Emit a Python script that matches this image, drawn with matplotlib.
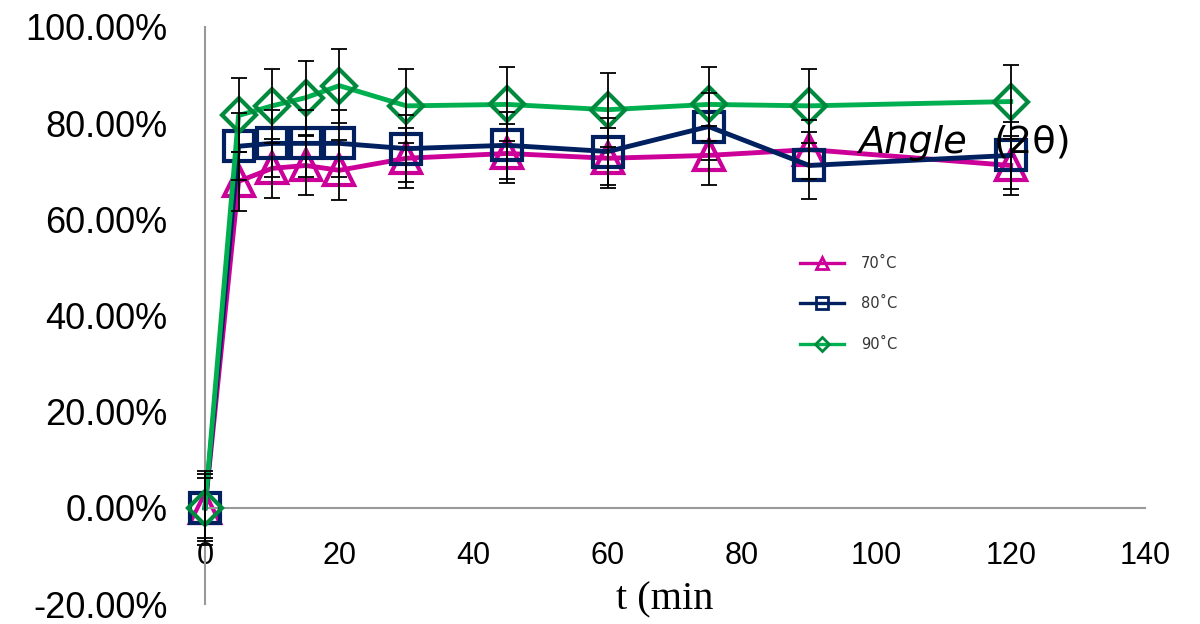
import matplotlib
matplotlib.use("Agg")
import matplotlib.pyplot as plt
from matplotlib.lines import Line2D
from matplotlib.ticker import FuncFormatter

# time points (min)
t = [0, 5, 10, 15, 20, 30, 45, 60, 75, 90, 120]

# fraction values per temperature
y70 = [0.0, 0.679, 0.706, 0.712, 0.702, 0.727, 0.737, 0.727, 0.733, 0.745, 0.712]
y80 = [0.0, 0.752, 0.758, 0.758, 0.758, 0.747, 0.754, 0.741, 0.793, 0.712, 0.733]
y90 = [0.0, 0.816, 0.836, 0.853, 0.878, 0.836, 0.839, 0.828, 0.839, 0.836, 0.845]

# error bar half-widths
e70 = 0.062
e80 = 0.070
e90 = 0.077

labels = ["70˚C", "80˚C", "90˚C"]
x_ticks = [0, 20, 40, 60, 80, 100, 120, 140]
y_ticks = [-0.2, 0.0, 0.2, 0.4, 0.6, 0.8, 1.0]

c70, c70e = "#CC0099", "#CC0099"
c80, c80e = "#002060", "#002060"
c90, c90e = "#00B050", "#008A3E"

fig = plt.figure(figsize=(12, 6.24), dpi=100)
ax = fig.add_axes([205 / 1200, 1 - 604 / 624, 940 / 1200, (604 - 27) / 624])

series = [
    (y70, e70, c70, c70e, "^"),
    (y80, e80, c80, c80e, "s"),
    (y90, e90, c90, c90e, "D"),
]
for i, (y, e, c, ce, m) in enumerate(series):
    ms = 21 if m != "D" else 17
    ax.plot(t, y, color=c, lw=3.5, marker=m, ms=ms, mfc="none", mec=ce,
            mew=3, zorder=2 + i, clip_on=False)
for i, (y, e, c, ce, m) in enumerate(series):
    ax.errorbar(t, y, yerr=e, fmt="none", ecolor="black", elinewidth=1.3,
                capsize=5.5, capthick=1.3, zorder=6, clip_on=False)

ax.set_xlim(0, 140)
ax.set_ylim(-0.2, 1.0)
ax.set_xticks(x_ticks)
ax.set_yticks(y_ticks)
ax.yaxis.set_major_formatter(FuncFormatter(lambda v, p: f"{v * 100:.2f}%"))

for s in ["top", "right"]:
    ax.spines[s].set_visible(False)
ax.spines["left"].set_position(("data", 0))
ax.spines["bottom"].set_position(("data", 0))
for s in ["left", "bottom"]:
    ax.spines[s].set_color("#999999")
    ax.spines[s].set_linewidth(1.5)

ax.tick_params(axis="both", length=0)
ax.tick_params(axis="y", pad=27, labelsize=26)
ax.tick_params(axis="x", pad=24, labelsize=22)
for lab in ax.get_xticklabels() + ax.get_yticklabels():
    lab.set_fontfamily("Liberation Sans")

fig.text(665 / 1200, 1 - 600 / 624, "t (min", family="Liberation Serif",
         fontsize=29, ha="center", va="center")
fig.text(858 / 1200, 1 - 143 / 624, "Angle", style="italic", fontsize=27.5,
         ha="left", va="center")
fig.text(994 / 1200, 1 - 143 / 624, "(2θ)", fontsize=27.5, ha="left", va="center")

handles = [
    Line2D([0], [0], color=c70, lw=2.4, marker="^", ms=8, mfc="none", mec=c70e, mew=2),
    Line2D([0], [0], color=c80, lw=2.4, marker="s", ms=8, mfc="none", mec=c80e, mew=2),
    Line2D([0], [0], color=c90, lw=2.4, marker="D", ms=7, mfc="none", mec=c90e, mew=2),
]
leg = fig.legend(handles, labels, loc="center left",
                 bbox_to_anchor=(794 / 1200, 1 - 304 / 624), frameon=False,
                 fontsize=10.5, handlelength=3, handletextpad=1.2,
                 labelspacing=1.75, borderaxespad=0)
for txt in leg.get_texts():
    txt.set_color("#333333")

fig.savefig("out.png", dpi=100)
